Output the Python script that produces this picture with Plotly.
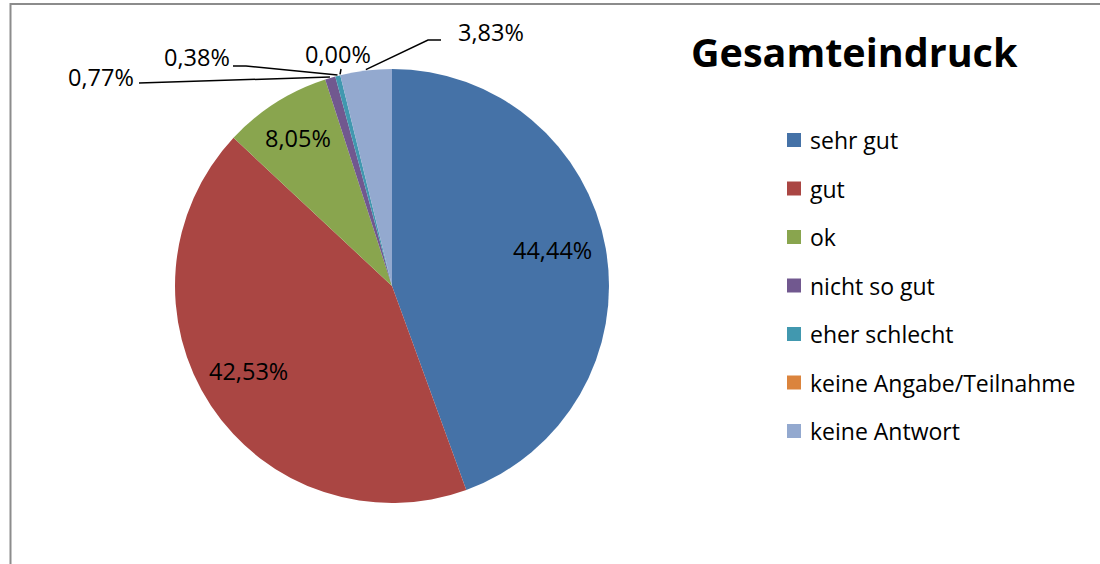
import math
import plotly.graph_objects as go

# ---- data ----
categories = ["sehr gut", "gut", "ok", "nicht so gut", "eher schlecht",
              "keine Angabe/Teilnahme", "keine Antwort"]
percent = [44.44, 42.53, 8.05, 0.77, 0.38, 0.00, 3.83]
colors = ["#4572A7", "#AA4643", "#89A54E", "#71588F", "#4198AF",
          "#DB843D", "#93A9CF"]
title_text = "Gesamteindruck"

W, H = 1100, 564
CX, CY, R = 392, 286, 217          # pie centre / radius in pixels
FONT = "Open Sans"
LBL_SIZE = 23.5
IN_DX, IN_DY = -4, -7              # small offset of inside labels


def px(x):
    return x / W


def py(y):
    return 1 - y / H


def fmt(v):
    return f"{v:.2f}".replace(".", ",") + "%"


fig = go.Figure()
fig.add_trace(go.Pie(
    labels=categories,
    values=[max(v, 1e-9) for v in percent],
    marker=dict(colors=colors, line=dict(width=0)),
    sort=False,
    direction="clockwise",
    rotation=0,
    textinfo="none",
    hoverinfo="label+percent",
    showlegend=False,
    domain=dict(x=[px(CX - R), px(CX + R)], y=[py(CY + R), py(CY - R)]),
))

annotations = []
shapes = []

# slice angles (clockwise from 12 o'clock)
total = sum(percent)
cum = 0.0
mids = []
for v in percent:
    a0 = cum / total * 360
    cum += v
    a1 = cum / total * 360
    mids.append((a0 + a1) / 2)

# inside labels for large slices
for v, m in zip(percent, mids):
    if v >= 5:
        rr = 0.77 * R
        x = CX + rr * math.sin(math.radians(m)) + IN_DX
        y = CY - rr * math.cos(math.radians(m)) + IN_DY
        annotations.append(dict(x=px(x), y=py(y), xref="paper", yref="paper",
                                text=fmt(v), showarrow=False,
                                font=dict(family=FONT, size=LBL_SIZE, color="#000"),
                                xanchor="center", yanchor="middle"))

# outside labels with leader lines (label position, leader path)
outside = {
    3: dict(text_xy=(101, 77), path=[(139, 83), (None, None)]),
    4: dict(text_xy=(197, 57), path=[(233, 66), (246, 66), (None, None)]),
    5: dict(text_xy=(338, 54), path=[(341, 69), (None, None)]),
    6: dict(text_xy=(491, 32), path=[(441, 40), (428, 40), (None, None)]),
}
for idx, spec in outside.items():
    v = percent[idx]
    tx, ty = spec["text_xy"]
    annotations.append(dict(x=px(tx), y=py(ty), xref="paper", yref="paper",
                            text=fmt(v), showarrow=False,
                            font=dict(family=FONT, size=LBL_SIZE, color="#000"),
                            xanchor="center", yanchor="middle"))
    m = mids[idx]
    ex = CX + (R + 1) * math.sin(math.radians(m))
    ey = CY - (R + 1) * math.cos(math.radians(m))
    pts = [(ex, ey) if p[0] is None else p for p in spec["path"]]
    d = "M " + " L ".join(f"{px(a)},{py(b)}" for a, b in pts)
    shapes.append(dict(type="path", xref="paper", yref="paper", path=d,
                       line=dict(color="#000", width=1.5)))

# title
annotations.append(dict(x=px(854), y=py(52), xref="paper", yref="paper",
                        text="<b>" + title_text + "</b>", showarrow=False,
                        font=dict(family=FONT, size=39.5, color="#000"),
                        xanchor="center", yanchor="middle"))

# manual legend
for i, (lab, col) in enumerate(zip(categories, colors)):
    yc = 140 + i * 48.5
    shapes.append(dict(type="rect", xref="paper", yref="paper",
                       x0=px(787), x1=px(801), y0=py(yc + 7), y1=py(yc - 7),
                       fillcolor=col, line=dict(width=0)))
    annotations.append(dict(x=px(808), y=py(yc), xref="paper", yref="paper",
                            text=lab, showarrow=False,
                            font=dict(family=FONT, size=23, color="#000"),
                            xanchor="left", yanchor="middle"))

# chart frame (left and top edges visible)
shapes.append(dict(type="path", xref="paper", yref="paper",
                   path=f"M {px(10.5)},{py(564)} L {px(10.5)},{py(4)} L {px(1100)},{py(4)}",
                   line=dict(color="#8c8c8c", width=2)))

fig.update_layout(
    width=W, height=H,
    margin=dict(l=0, r=0, t=0, b=0),
    paper_bgcolor="white", plot_bgcolor="white",
    annotations=annotations, shapes=shapes,
    font=dict(family=FONT),
)

fig.write_html("out.html",
               config={"displayModeBar": False},
               post_script="document.body.style.margin='0';document.body.style.overflow='hidden';")
